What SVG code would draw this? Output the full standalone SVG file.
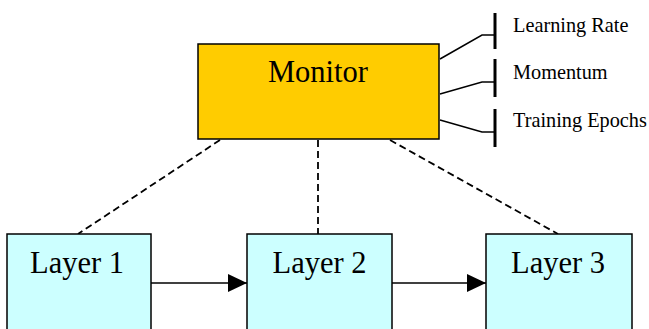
<svg xmlns="http://www.w3.org/2000/svg" width="649" height="329" viewBox="0 0 649 329">
<defs>
<style>
.box{stroke:#000;stroke-width:1.5}
.mon{fill:#FFCC00}
.lay{fill:#CCFFFF}
.big{font-family:"Liberation Serif","Times New Roman",serif;font-size:30.5px;fill:#000;text-anchor:middle}
.small{font-family:"Liberation Serif","Times New Roman",serif;font-size:20.3px;fill:#000}
.dash{stroke:#000;stroke-width:1.8;stroke-dasharray:7 4;fill:none}
.solid{stroke:#000;stroke-width:1.5;fill:none}
.bar{stroke:#000;stroke-width:3;fill:none}
</style>
<marker id="arr" viewBox="0 0 19 18" refX="19" refY="9" markerWidth="19" markerHeight="18" markerUnits="userSpaceOnUse" orient="auto">
<path d="M0,0 L19,9 L0,18 Z" fill="#000"/>
</marker>
</defs>
<rect width="649" height="329" fill="#fff"/>
<g id="connectors">
<line class="dash" x1="220" y1="140" x2="78" y2="234"/>
<line class="dash" x1="318" y1="140" x2="318" y2="234"/>
<line class="dash" x1="390" y1="140" x2="558" y2="234"/>
<line class="solid" x1="151" y1="283" x2="247" y2="283" marker-end="url(#arr)"/>
<line class="solid" x1="392" y1="283" x2="486" y2="283" marker-end="url(#arr)"/>
<polyline class="solid" points="440,59 482,35 495,35"/>
<polyline class="solid" points="440,94 482,82 495,82"/>
<polyline class="solid" points="440,120 482,132 495,132"/>
</g>
<g id="monitor">
<rect class="box mon" x="198" y="44" width="241" height="95"/>
<text class="big" x="318" y="82">Monitor</text>
</g>
<g id="layer1">
<rect class="box lay" x="7" y="234" width="144" height="100"/>
<text class="big" x="77" y="273">Layer 1</text>
</g>
<g id="layer2">
<rect class="box lay" x="247" y="234" width="145" height="100"/>
<text class="big" x="319.5" y="273">Layer 2</text>
</g>
<g id="layer3">
<rect class="box lay" x="486" y="234" width="146" height="100"/>
<text class="big" x="558" y="273">Layer 3</text>
</g>
<g id="learning-rate">
<line class="bar" x1="495" y1="13" x2="495" y2="49"/>
<text class="small" x="513" y="32">Learning Rate</text>
</g>
<g id="momentum">
<line class="bar" x1="495" y1="59" x2="495" y2="97"/>
<text class="small" x="513" y="79">Momentum</text>
</g>
<g id="training-epochs">
<line class="bar" x1="495" y1="109" x2="495" y2="147"/>
<text class="small" x="513" y="127">Training Epochs</text>
</g>
</svg>
